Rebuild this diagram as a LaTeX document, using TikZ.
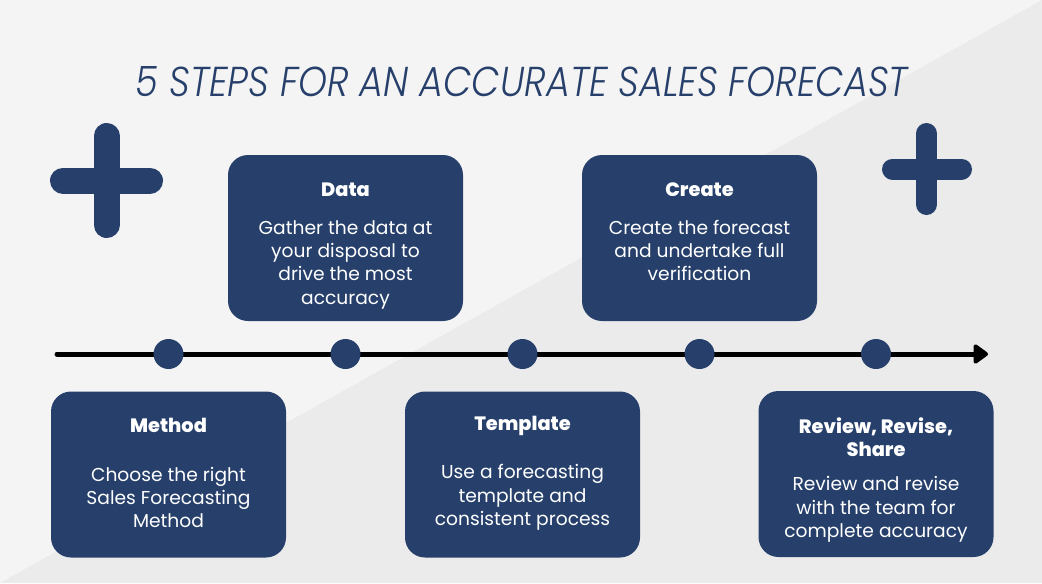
\documentclass[tikz,border=0pt]{standalone}
\usepackage{fontspec}
\setmainfont{Poppins}
\IfFontExistsTF{Poppins Light Italic}
  {\newfontfamily\titlefont{Poppins Light Italic}}
  {\newcommand\titlefont{\itshape}}
\IfFontExistsTF{Poppins ExtraBold}
  {\newfontfamily\headfont{Poppins ExtraBold}}
  {\newcommand\headfont{\bfseries}}
\usetikzlibrary{arrows.meta,positioning}
\definecolor{navy}{HTML}{27406B}
\definecolor{paperlight}{HTML}{F4F4F4}
\definecolor{paperdark}{HTML}{EBEBEB}
\tikzset{
  stepbox/.style={
    rectangle, rounded corners=15pt, fill=navy,
    minimum width=176.25pt, minimum height=124.5pt, inner sep=0pt
  },
  steptitle/.style={
    font=\fontsize{14.5}{17.5}\selectfont\headfont, text=white, align=center
  },
  steptext/.style={
    font=\fontsize{14}{17.5}\selectfont, text=white, align=center
  },
  stepdot/.style={
    circle, fill=navy, minimum size=22.5pt, inner sep=0pt
  },
  timeline/.style={
    -{Triangle[length=12pt, width=16.5pt, round]}, line width=3.75pt,
    line cap=round, black
  },
  plussign/.style={
    navy, line cap=round, line width=#1
  },
}

\begin{document}
\begin{tikzpicture}[x=0.75pt, y=-0.75pt]
  % Background, split on the diagonal
  \fill[paperlight] (0,0) rectangle (1042,583);
  \fill[paperdark] (1042,0) -- (1042,583) -- (0,583) -- cycle;
  \useasboundingbox (0,0) rectangle (1042,583);

  % Title
  \node[text=navy, inner sep=0pt] (heading) at (522,82)
    {\resizebox{579pt}{22.5pt}{\titlefont 5 STEPS FOR AN ACCURATE SALES FORECAST}};

  % Plus signs
  \draw[plussign=19.5pt] (63,180.5) -- (150,180.5);
  \draw[plussign=19.5pt] (106.5,136) -- (106.5,225);
  \draw[plussign=15.75pt] (892.5,169) -- (961.5,169);
  \draw[plussign=15.75pt] (926.5,133.5) -- (926.5,204.5);

  % Timeline
  \coordinate (tl start) at (57,354);
  \coordinate (tl end) at (988,354);
  \draw[timeline] (tl start) -- (tl end);
  \foreach \n/\x in {1/168.5, 2/345.5, 3/522.5, 4/699.5, 5/876}
    \node[stepdot] (dot\n) at (\x,354) {};

  % Upper boxes
  \node[stepbox] (data) at (345.5,238) {};
  \node[steptitle] (data title) at (345.5,190) {Data};
  \node[steptext] (data text) at (345.5,264.5)
    {Gather the data at\\your disposal to\\drive the most\\accuracy};

  \node[stepbox] (create) at (699.5,238) {};
  \node[steptitle] (create title) at (699.5,190) {Create};
  \node[steptext] (create text) at (699.5,250.5)
    {Create the forecast\\and undertake full\\verification};

  % Lower boxes
  \node[stepbox] (method) at (168.5,474.5) {};
  \node[steptitle] (method title) at (168.5,425.5) {Method};
  \node[steptext] (method text) at (168.5,497.5)
    {Choose the right\\Sales Forecasting\\Method};

  \node[stepbox] (template) at (522.5,474.5) {};
  \node[steptitle] (template title) at (522.5,425.5) {Template};
  \node[steptext] (template text) at (522.5,497.5)
    {Use a forecasting\\template and\\consistent process};

  \node[stepbox] (review) at (876,474) {};
  \node[steptitle] (review title) at (876,437.5) {Review, Revise,\\Share};
  \node[steptext] (review text) at (876,509.5)
    {Review and revise\\with the team for\\complete accuracy};
\end{tikzpicture}
\end{document}
